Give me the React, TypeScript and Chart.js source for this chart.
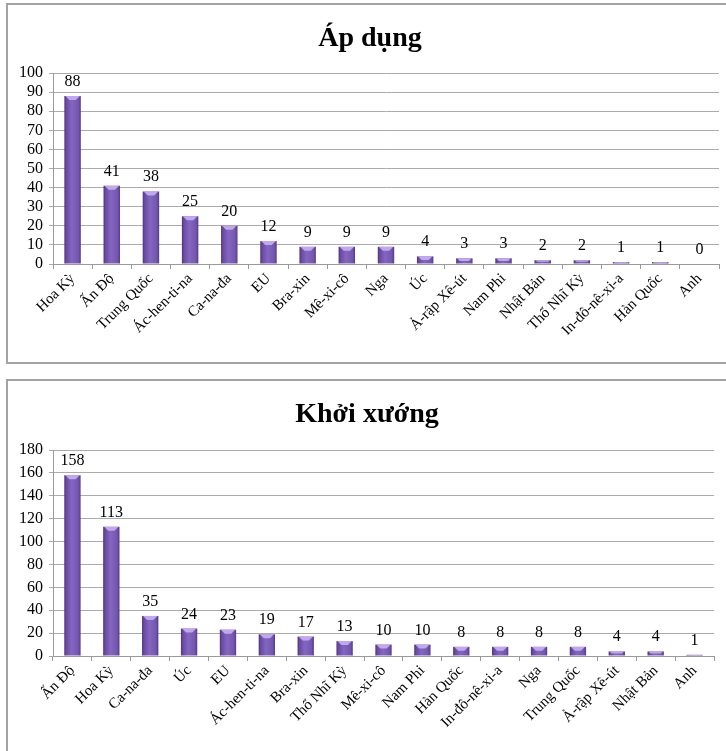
import React, { useEffect, useRef } from "react";
import { Chart, registerables } from "chart.js";

Chart.register(...registerables);

// "Áp dụng" – number of measures applied, by country
const adoptCountries = [
  "Hoa Kỳ", "Ấn Độ", "Trung Quốc", "Ác-hen-ti-na", "Ca-na-đa", "EU", "Bra-xin",
  "Mê-xi-cô", "Nga", "Úc", "Ả-rập Xê-út", "Nam Phi", "Nhật Bản", "Thổ Nhĩ Kỳ",
  "In-đô-nê-xi-a", "Hàn Quốc", "Anh",
];
const adoptValues = [88, 41, 38, 25, 20, 12, 9, 9, 9, 4, 3, 3, 2, 2, 1, 1, 0];
const adoptAxisMax = 100;
const adoptAxisStep = 10;

// "Khởi xướng" – number of cases initiated, by country
const initCountries = [
  "Ấn Độ", "Hoa Kỳ", "Ca-na-đa", "Úc", "EU", "Ác-hen-ti-na", "Bra-xin",
  "Thổ Nhĩ Kỳ", "Mê-xi-cô", "Nam Phi", "Hàn Quốc", "In-đô-nê-xi-a", "Nga",
  "Trung Quốc", "Ả-rập Xê-út", "Nhật Bản", "Anh",
];
const initValues = [158, 113, 35, 24, 23, 19, 17, 13, 10, 10, 8, 8, 8, 8, 4, 4, 1];
const initAxisMax = 180;
const initAxisStep = 20;

const SERIF = "'Liberation Serif', 'Times New Roman', serif";
const BAR_PCT = 0.42;

type PanelProps = {
  title: string;
  labels: string[];
  values: number[];
  max: number;
  step: number;
  left: number;
  top: number;
  width: number;
  height: number;
  padTop: number;
  padRight: number;
  axisWidth: number;
  xAxisHeight: number;
  titleX: number;
  titleBaseline: number;
};

function ChartCanvas(p: PanelProps) {
  const ref = useRef<HTMLCanvasElement | null>(null);

  useEffect(() => {
    if (!ref.current) return;

    // Heading drawn inside the canvas
    const titlePlugin = {
      id: "panelTitle",
      afterDraw(chart: any) {
        const ctx = chart.ctx;
        ctx.save();
        ctx.font = `bold 28px ${SERIF}`;
        ctx.fillStyle = "#000";
        ctx.textAlign = "center";
        ctx.textBaseline = "alphabetic";
        ctx.fillText(p.title, p.titleX, p.titleBaseline);
        ctx.restore();
      },
    };

    // Light bevel on the top of every bar, plus the value above it
    const barDecor = {
      id: "barDecor",
      afterDatasetsDraw(chart: any) {
        const ctx = chart.ctx;
        const meta = chart.getDatasetMeta(0);
        const data = chart.data.datasets[0].data as number[];
        ctx.save();
        meta.data.forEach((el: any, i: number) => {
          const { x, y, base, width } = el.getProps(["x", "y", "base", "width"], true);
          const h = base - y;
          const l = x - width / 2;
          const r = x + width / 2;
          if (h > 0.5) {
            const bh = Math.min(4, h / 2);
            ctx.fillStyle = "rgba(196, 172, 240, 0.95)";
            ctx.beginPath();
            ctx.moveTo(l + 1, y);
            ctx.lineTo(r - 1, y);
            ctx.lineTo(r - 1 - bh, y + bh);
            ctx.lineTo(l + 1 + bh, y + bh);
            ctx.closePath();
            ctx.fill();
          }
          ctx.font = `16px ${SERIF}`;
          ctx.fillStyle = "#000";
          ctx.textAlign = "center";
          ctx.textBaseline = "alphabetic";
          ctx.fillText(String(data[i]), x, y - 10);
        });
        ctx.restore();
      },
    };

    const chart = new Chart(ref.current, {
      type: "bar",
      data: {
        labels: p.labels,
        datasets: [
          {
            data: p.values,
            categoryPercentage: 1,
            barPercentage: BAR_PCT,
            borderWidth: 0,
            backgroundColor: (c: any) => {
              const ch = c.chart;
              const area = ch.chartArea;
              if (!area || c.dataIndex === undefined) return "#7a58b3";
              const x = ch.scales.x.getPixelForValue(c.dataIndex);
              const half = ((area.right - area.left) / p.labels.length) * BAR_PCT / 2;
              const g = ch.ctx.createLinearGradient(x - half, 0, x + half, 0);
              g.addColorStop(0, "#4c3379");
              g.addColorStop(0.12, "#6a4aa3");
              g.addColorStop(0.45, "#8466c0");
              g.addColorStop(0.85, "#7356ae");
              g.addColorStop(1, "#553a86");
              return g;
            },
          },
        ],
      },
      options: {
        responsive: false,
        animation: false,
        layout: { padding: { top: p.padTop, right: p.padRight, left: 0, bottom: 0 } },
        plugins: {
          legend: { display: false },
          title: { display: false },
          tooltip: { enabled: false },
        },
        scales: {
          x: {
            offset: true,
            grid: {
              offset: true,
              drawOnChartArea: false,
              drawTicks: true,
              tickLength: 5,
              color: "#9a9a9a",
            },
            border: { color: "#9a9a9a", width: 1 },
            ticks: {
              autoSkip: false,
              maxRotation: 45,
              minRotation: 45,
              padding: 1,
              color: "#000",
              font: { family: SERIF, size: 15 },
            },
            afterFit: (s: any) => {
              s.height = p.xAxisHeight;
            },
          },
          y: {
            min: 0,
            max: p.max,
            ticks: {
              stepSize: p.step,
              autoSkip: false,
              padding: 6,
              color: "#000",
              font: { family: SERIF, size: 16 },
            },
            grid: { color: "#ababab", tickLength: 4, drawTicks: true },
            border: { color: "#9a9a9a", width: 1 },
            afterFit: (s: any) => {
              s.width = p.axisWidth;
            },
          },
        },
      },
      plugins: [titlePlugin, barDecor],
    } as any);

    return () => chart.destroy();
  }, []);

  return (
    <canvas
      ref={ref}
      width={p.width}
      height={p.height}
      style={{ position: "absolute", left: p.left, top: p.top, width: p.width, height: p.height }}
    />
  );
}

const frame: React.CSSProperties = {
  position: "absolute",
  boxSizing: "border-box",
  border: "2px solid #a3a3a3",
  background: "#fff",
};

export default function App() {
  return (
    <div
      style={{
        position: "fixed",
        left: 0,
        top: 0,
        width: 726,
        height: 751,
        overflow: "hidden",
        background: "#fff",
      }}
    >
      <div style={{ ...frame, left: 6, top: 3, width: 740, height: 361 }} />
      <div style={{ ...frame, left: 6, top: 379, width: 740, height: 390 }} />
      <ChartCanvas
        title="Áp dụng"
        labels={adoptCountries}
        values={adoptValues}
        max={adoptAxisMax}
        step={adoptAxisStep}
        left={8}
        top={5}
        width={728}
        height={356}
        padTop={68}
        padRight={17}
        axisWidth={45}
        xAxisHeight={97}
        titleX={362}
        titleBaseline={41}
      />
      <ChartCanvas
        title="Khởi xướng"
        labels={initCountries}
        values={initValues}
        max={initAxisMax}
        step={initAxisStep}
        left={8}
        top={382}
        width={728}
        height={369}
        padTop={68}
        padRight={22}
        axisWidth={45}
        xAxisHeight={95}
        titleX={359}
        titleBaseline={40}
      />
    </div>
  );
}
